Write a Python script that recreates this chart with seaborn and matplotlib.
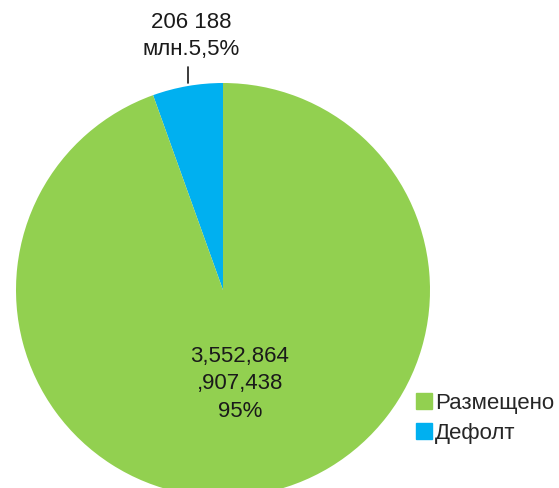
import matplotlib
matplotlib.use("Agg")
import matplotlib.pyplot as plt
import matplotlib.patches as mpatches
import seaborn as sns

# data (mln)
categories = ['Дефолт', 'Размещено']
values = [206188, 3552864.907438]
colors = ['#00B0F0', '#92D050']
legend_order = ['Размещено', 'Дефолт']
outer_label = '206 188\nмлн.5,5%'
inner_label = '3,552,864\n,907,438\n95%'

sns.set_theme(style="white")
plt.rcParams['font.family'] = ['Liberation Sans', 'DejaVu Sans']

fig = plt.figure(figsize=(5.59, 4.88), dpi=100)
ax = fig.add_axes([0, 0, 1, 1])

cx, cy, r = 223, 488 - 290, 207
wedges, _ = ax.pie(values, colors=colors, startangle=90, counterclock=True,
                   center=(cx, cy), radius=r, frame=True,
                   wedgeprops=dict(linewidth=0, edgecolor='none'))
ax.set_xlim(0, 559)
ax.set_ylim(0, 488)
ax.set_aspect('equal')
ax.axis('off')

# labels
ax.text(191, 488 - 36, outer_label, ha='center', va='center', fontsize=16,
        color='#1a1a1a', linespacing=1.4)
ax.plot([188, 188], [488 - 67, 488 - 83], color='#1a1a1a', lw=1.2)
ax.text(240, 488 - 384, inner_label, ha='center', va='center', fontsize=16,
        color='#1a1a1a', linespacing=1.4)

handles = [mpatches.Patch(color=colors[categories.index(c)]) for c in legend_order]
fig.legend(handles, legend_order, loc='upper left', bbox_to_anchor=(416 / 559, 1 - 393 / 488),
           frameon=False, fontsize=16, handlelength=0.7, handleheight=0.7,
           handletextpad=0.15, labelspacing=0.4, borderpad=0, borderaxespad=0)

fig.savefig('out.png', dpi=100)
